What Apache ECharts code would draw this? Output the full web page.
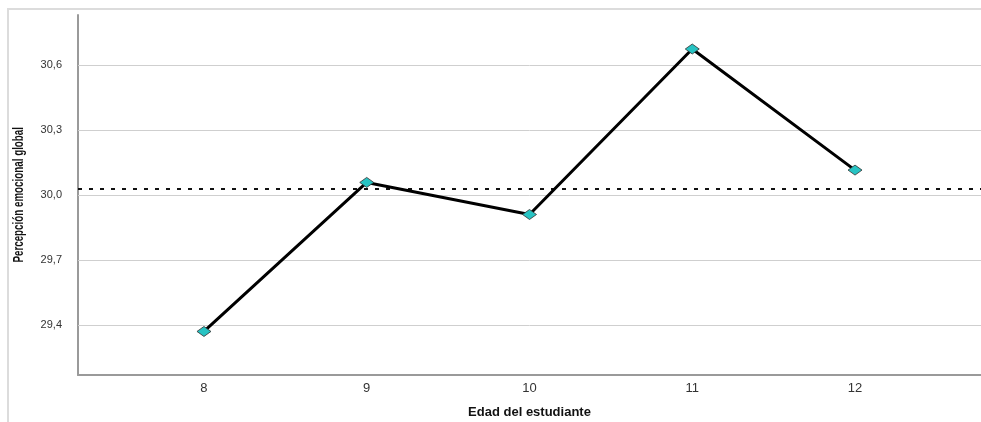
<!DOCTYPE html>
<html>
<head>
<meta charset="utf-8">
<script src="https://cdn.jsdelivr.net/npm/echarts@6/dist/echarts.min.js"></script>
<style>
html,body{margin:0;padding:0;background:#fff;overflow:hidden;}
#frame{position:absolute;left:7px;top:8px;right:0;bottom:0;border-left:2px solid #dcdcdc;border-top:2px solid #dcdcdc;}
#c{position:absolute;left:0;top:0;width:981px;height:422px;}
</style>
</head>
<body>
<div id="frame"></div>
<div id="c"></div>
<script>
// Data
var ages = [8, 9, 10, 11, 12];
var perception = [29.37, 30.058, 29.91, 30.674, 30.115];
var meanLine = 30.03;
var yTicks = [29.4, 29.7, 30.0, 30.3, 30.6];
var xTicks = [8, 9, 10, 11, 12];
var xName = 'Edad del estudiante';
var yName = 'Percepción emocional global';

var chart = echarts.init(document.getElementById('c'), null, {renderer: 'canvas'});
var pts = ages.map(function (a, i) { return [a, perception[i]]; });

var option = {
  animation: false,
  grid: {left: 78, right: 0, top: 15, bottom: 47, containLabel: false, outerBoundsMode: 'none'},
  graphic: [{
    type: 'text', left: 12, top: 127, rotation: Math.PI / 2,
    z: 10,
    style: {
      text: yName, fill: '#111',
      font: 'bold 14px "Liberation Sans", Arial, sans-serif'
    },
    scaleX: 0.7,
    originX: 0, originY: 0
  }],
  xAxis: {
    type: 'value', min: 7.226, max: 12.774,
    name: xName, nameLocation: 'middle', nameGap: 31,
    nameTextStyle: {fontFamily: 'Liberation Sans, Arial, sans-serif', fontWeight: 'bold', fontSize: 13, color: '#111'},
    axisLine: {show: true, lineStyle: {color: '#9a9a9a', width: 2}},
    axisTick: {show: false},
    splitLine: {show: false},
    axisLabel: {customValues: xTicks, margin: 7, fontFamily: 'Liberation Sans, Arial, sans-serif', fontSize: 13, color: '#333'}
  },
  yAxis: {
    type: 'value', min: 29.169, max: 30.831,
    axisLine: {show: true, lineStyle: {color: '#9a9a9a', width: 2}},
    axisTick: {show: false},
    splitLine: {show: false},
    axisLabel: {
      customValues: yTicks, margin: 16,
      fontFamily: 'Liberation Sans, Arial, sans-serif', fontSize: 11, color: '#333',
      formatter: function (v) { return v.toFixed(1).replace('.', ','); }
    }
  },
  series: [
    {
      type: 'line', data: [], silent: true, z: 1,
      markLine: {
        silent: true, symbol: 'none', label: {show: false}, animation: false,
        lineStyle: {color: '#cfcfcf', width: 1, type: 'solid'},
        data: yTicks.map(function (t) { return {yAxis: t}; })
      }
    },
    {
      type: 'line', data: [], silent: true, z: 2,
      markLine: {
        silent: true, symbol: 'none', label: {show: false}, animation: false,
        lineStyle: {color: '#111', width: 2, type: [4, 7]},
        data: [{yAxis: meanLine}]
      }
    },
    {
      type: 'line', data: pts, z: 5,
      lineStyle: {color: '#000', width: 3},
      symbol: 'diamond', symbolSize: [14, 10], showAllSymbol: true,
      itemStyle: {color: '#27c3c3', borderColor: '#333', borderWidth: 0.8}
    }
  ]
};
chart.setOption(option);
</script>
</body>
</html>
